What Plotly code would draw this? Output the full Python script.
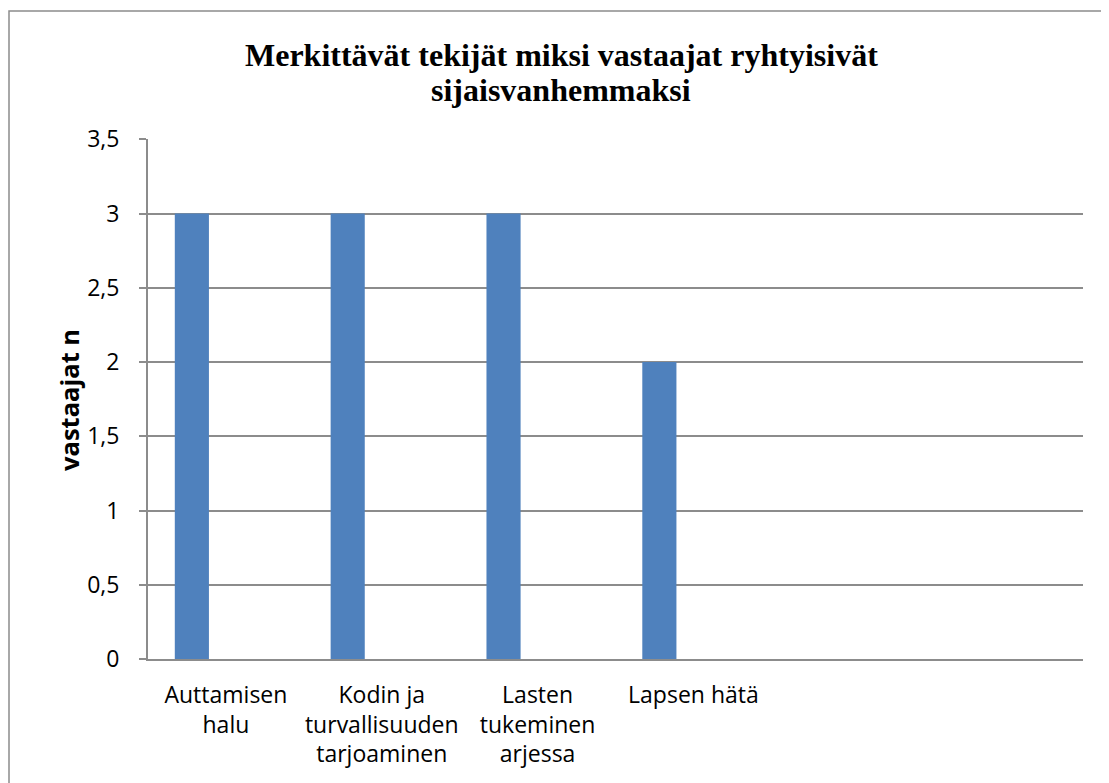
import plotly.graph_objects as go

categories = ["Auttamisen<br>halu", "Kodin ja<br>turvallisuuden<br>tarjoaminen",
              "Lasten<br>tukeminen<br>arjessa", "Lapsen hätä", "", ""]
values = [3, 3, 3, 2]
y_ticks = [0, 0.5, 1, 1.5, 2, 2.5, 3, 3.5]
title_lines = ["Merkittävät tekijät miksi vastaajat ryhtyisivät", "sijaisvanhemmaksi"]
y_title = "vastaajat n"

positions = list(range(len(categories)))

OFF = 8  # page body margin
W, H = 1109 - OFF, 783 - OFF
L, R, T, B = 148 - OFF, 1083 - OFF, 139 - OFF, 659 - OFF
pw, ph = R - L, B - T

def px_x(sx):
    return (sx - OFF - L) / pw

def px_y(sy):
    return 1 - (sy - OFF - T) / ph

fig = go.Figure()
fig.add_trace(go.Bar(
    x=positions[:len(values)], y=values,
    width=0.219, offset=-0.328,
    marker=dict(color="#4f81bd", line=dict(width=0)),
    hoverinfo="y",
))

grid_col = "#8c8c8c"
fig.update_layout(
    width=W, height=H,
    margin=dict(l=L, r=W - R, t=T, b=H - B, pad=0),
    paper_bgcolor="white", plot_bgcolor="white",
    separators=", ",
    showlegend=False,
    font=dict(family="Open Sans, Lato, sans-serif", color="black"),
    xaxis=dict(
        range=[-0.5, len(categories) - 0.5],
        tickvals=positions, ticktext=categories,
        showgrid=False, zeroline=False,
        showline=True, linecolor=grid_col, linewidth=2,
        ticks="", tickfont=dict(size=23),
        ticklabelstandoff=14,
    ),
    yaxis=dict(
        range=[0, 3.502], tickvals=y_ticks,
        showgrid=True, gridcolor=grid_col, gridwidth=1.5,
        zeroline=False,
        showline=True, linecolor=grid_col, linewidth=2,
        ticks="outside", ticklen=7, tickcolor=grid_col, tickwidth=1.5,
        tickfont=dict(size=23),
        ticklabelstandoff=15,
    ),
)

# title (two lines placed separately for tight spacing)
for line, cy in zip(title_lines, [55, 90]):
    fig.add_annotation(
        text="<b>" + line + "</b>", xref="paper", yref="paper",
        x=px_x(561), y=px_y(cy), xanchor="center", yanchor="middle",
        showarrow=False,
        font=dict(family="Liberation Serif, Times New Roman, serif", size=32, color="black"),
    )

# y-axis title
fig.add_annotation(
    text="<b>" + y_title + "</b>", xref="paper", yref="paper",
    x=px_x(69), y=px_y(400), xanchor="center", yanchor="middle",
    textangle=-90, showarrow=False,
    font=dict(family="Open Sans, sans-serif", size=25.5, color="black"),
)

# outer chart frame
fig.add_shape(type="rect", xref="paper", yref="paper",
              x0=px_x(9), x1=px_x(1109 + 20),
              y0=px_y(783 + 20), y1=px_y(11),
              line=dict(color="#8c8c8c", width=1.5), fillcolor="rgba(0,0,0,0)",
              layer="below")

fig.write_html("out.html")
